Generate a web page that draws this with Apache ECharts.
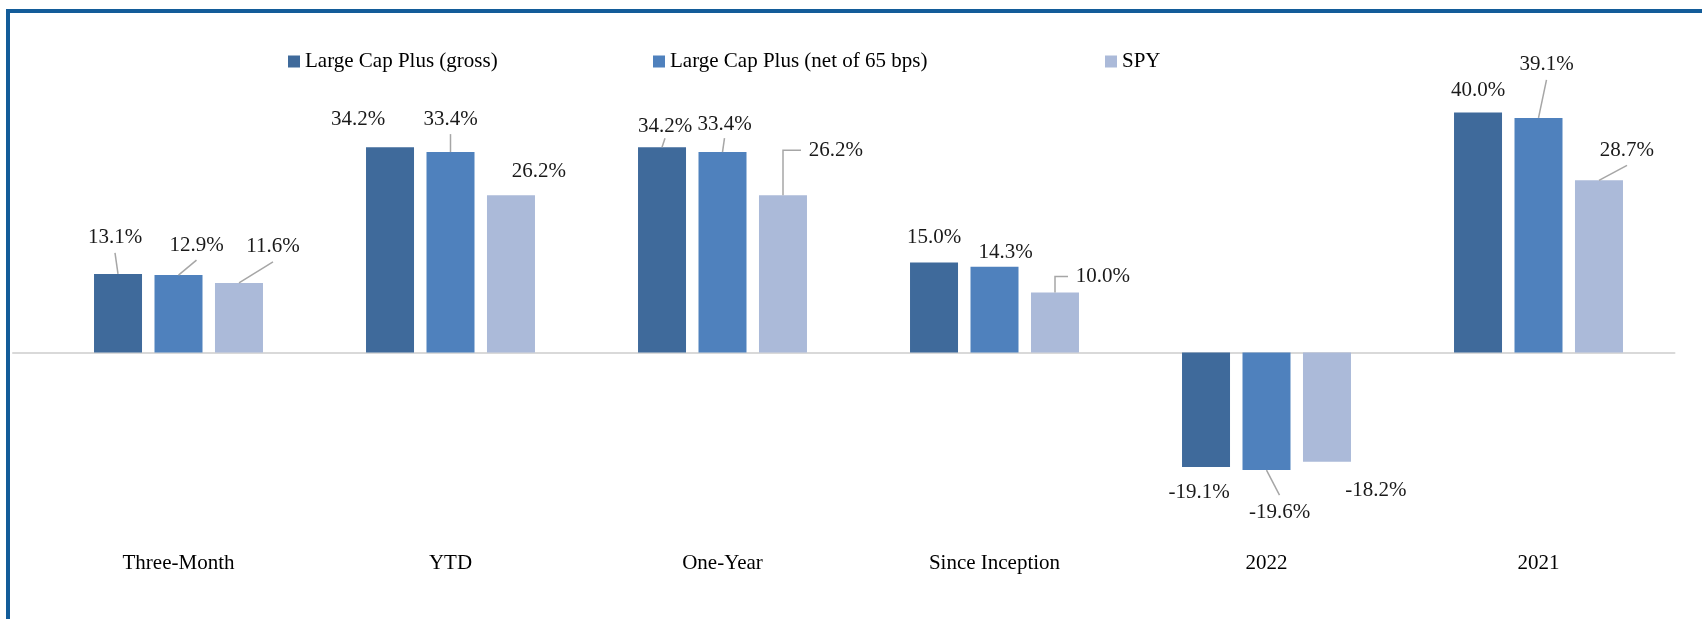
<!DOCTYPE html>
<html>
<head>
<meta charset="utf-8">
<script src="https://cdn.jsdelivr.net/npm/echarts@6/dist/echarts.min.js"></script>
<style>
  html, body { margin: 0; padding: 0; background: #fff; }
  #chart { position: absolute; left: 0; top: 0; width: 1702px; height: 619px; }
  #frame { position: absolute; left: 6px; top: 9px; right: 0; bottom: 0;
           border-top: 4px solid #135c99; border-left: 4px solid #135c99; pointer-events: none; }
</style>
</head>
<body>
<div id="chart"></div>
<div id="frame"></div>
<script>
const categories = ['Three-Month', 'YTD', 'One-Year', 'Since Inception', '2022', '2021'];
const seriesNames = ['Large Cap Plus (gross)', 'Large Cap Plus (net of 65 bps)', 'SPY'];
const grossValues = [13.1, 34.2, 34.2, 15.0, -19.1, 40.0];
const netValues = [12.9, 33.4, 33.4, 14.3, -19.6, 39.1];
const spyValues = [11.6, 26.2, 26.2, 10.0, -18.2, 28.7];
const allValues = [grossValues, netValues, spyValues];
const colors = ['#3f6a9b', '#4f81bd', '#abbad9'];

// label placement (dx, dy from bar end centre; leader type 0 none, 1 straight, 2 elbow; leader end gap)
const labelPlace = [
  [[-3, -36, 1, 15], [-32, -28, 0, 0], [3, -21, 1, 12], [0, -25, 0, 0], [-7, 25, 0, 0], [0, -22, 0, 0]],
  [[18, -30, 1, 15], [0, -33, 1, 15], [2, -28, 1, 14], [11, -14, 0, 0], [13, 42, 1, 17], [8, -53, 1, 15]],
  [[34, -36, 1, 15], [28, -24, 0, 0], [53, -45, 2, 0], [48, -16, 2, 0], [49, 29, 0, 0], [28, -30, 1, 15]]
];

const FONT = 'Liberation Serif';
const BAR_W = 48, BAR_STEP = 60.5;
const chart = echarts.init(document.getElementById('chart'));

function layoutFn(params) {
  const s = params.seriesIndex, i = params.dataIndex;
  const r = params.rect;
  const v = allValues[s][i];
  const cx = r.x + r.width / 2;
  const endY = v >= 0 ? Math.min(r.y, r.y + r.height) : Math.max(r.y, r.y + r.height);
  const p = labelPlace[s][i];
  return { x: cx + p[0], y: endY + p[1], align: 'center', verticalAlign: 'middle' };
}

// leader lines, built from the same values through the axes
const leaderData = [];
allValues.forEach((arr, s) => arr.forEach((v, i) => {
  if (labelPlace[s][i][2] !== 0) leaderData.push([i, v, s]);
}));

function leaderRender(params, api) {
  const i = api.value(0), v = api.value(1), s = api.value(2);
  const p = labelPlace[s][i];
  const base = api.coord([i, v]);
  const cx = base[0] + (s - 1) * BAR_STEP;
  const endY = base[1];
  const lx = cx + p[0], ly = endY + p[1];
  let pts;
  if (p[2] === 1) pts = [[cx, endY], [lx, ly + (v >= 0 ? p[3] : -p[3])]];
  else pts = [[cx, endY], [cx, ly], [lx - 35, ly]];
  return { type: 'polyline', shape: { points: pts }, silent: true,
           style: { stroke: '#a6a6a6', lineWidth: 1.5, fill: null } };
}

const legendLefts = [283, 648, 1100];

chart.setOption({
  animation: false,
  legend: seriesNames.map((n, k) => ({
    data: [n], left: legendLefts[k], top: 46, icon: 'rect', itemWidth: 12, itemHeight: 12,
    textStyle: { fontFamily: FONT, fontSize: 21, color: '#000' }
  })),
  grid: [
    { left: 42.5, right: 27.5, top: 52.5, height: 480, outerBoundsMode: 'none', containLabel: false },
    { left: 13, right: 27.5, top: 52.5, height: 480, outerBoundsMode: 'none', containLabel: false }
  ],
  xAxis: [
    { type: 'category', data: categories, gridIndex: 0,
      axisLine: { show: false }, axisTick: { show: false }, axisLabel: { show: false } },
    { type: 'category', data: categories, gridIndex: 0, position: 'bottom',
      axisLine: { show: false, onZero: false }, axisTick: { show: false },
      axisLabel: { margin: 20, fontFamily: FONT, fontSize: 21, color: '#000' } },
    { type: 'value', gridIndex: 1, min: 0, max: 1,
      axisLine: { show: true, onZero: true, lineStyle: { color: '#d9d9d9', width: 2 } },
      axisTick: { show: false }, axisLabel: { show: false }, splitLine: { show: false } }
  ],
  yAxis: [
    { type: 'value', gridIndex: 0, min: -30, max: 50, show: false, splitLine: { show: false } },
    { type: 'value', gridIndex: 1, min: -30, max: 50, show: false, splitLine: { show: false } }
  ],
  series: seriesNames.map((n, k) => ({
    name: n, type: 'bar', data: allValues[k], barWidth: BAR_W, barGap: '26%',
    xAxisIndex: 0, yAxisIndex: 0, z: 2,
    itemStyle: { color: colors[k] },
    label: { show: true, position: 'top', fontFamily: FONT, fontSize: 21, color: '#1a1a1a',
             formatter: p => p.value.toFixed(1) + '%' },
    labelLayout: layoutFn
  })).concat([{
    type: 'custom', name: 'leaders', xAxisIndex: 0, yAxisIndex: 0, z: 3, silent: true,
    data: leaderData, renderItem: leaderRender
  }])
});
</script>
</body>
</html>
